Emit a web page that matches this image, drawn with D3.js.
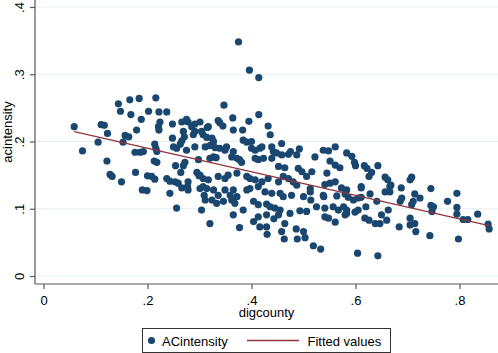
<!DOCTYPE html>
<html>
<head>
<meta charset="utf-8">
<script src="https://cdn.jsdelivr.net/npm/d3@7"></script>
<style>
  body { margin: 0; background: #fff; }
  text { font-family: "Liberation Sans", Arial, sans-serif; fill: #000; }
</style>
</head>
<body>
<script>
var w = 498;
var h = 353;

// digcounty (x) and ACintensity (y)
var digcounty = [
  0.059, 0.075, 0.105, 0.111, 0.117, 0.123, 0.122, 0.128, 0.132, 0.144,
  0.148, 0.153, 0.150, 0.157, 0.164, 0.166, 0.168, 0.184, 0.188, 0.179,
  0.176, 0.186, 0.192, 0.177, 0.202, 0.216, 0.222, 0.237, 0.224, 0.221,
  0.222, 0.214, 0.216, 0.218, 0.213, 0.218, 0.200, 0.208, 0.214, 0.248,
  0.248, 0.250, 0.256, 0.254, 0.237, 0.243, 0.253, 0.266, 0.275, 0.278,
  0.269, 0.271, 0.266, 0.263, 0.275, 0.272, 0.269, 0.264, 0.278, 0.285,
  0.291, 0.301, 0.288, 0.291, 0.291, 0.295, 0.299, 0.304, 0.307, 0.298,
  0.190, 0.199, 0.259, 0.243, 0.256, 0.266, 0.277, 0.278, 0.301, 0.307,
  0.309, 0.375, 0.396, 0.414, 0.347, 0.315, 0.336, 0.339, 0.345, 0.364,
  0.395, 0.414, 0.432, 0.365, 0.383, 0.317, 0.436, 0.314, 0.324, 0.327,
  0.384, 0.391, 0.400, 0.458, 0.492, 0.538, 0.548, 0.561, 0.311, 0.320,
  0.330, 0.339, 0.349, 0.352, 0.365, 0.400, 0.407, 0.416, 0.420, 0.439,
  0.442, 0.448, 0.458, 0.471, 0.475, 0.487, 0.522, 0.551, 0.583, 0.320,
  0.327, 0.332, 0.362, 0.372, 0.377, 0.381, 0.407, 0.413, 0.423, 0.439,
  0.452, 0.464, 0.490, 0.497, 0.516, 0.545, 0.561, 0.570, 0.301, 0.307,
  0.317, 0.336, 0.349, 0.355, 0.372, 0.391, 0.397, 0.407, 0.420, 0.432,
  0.452, 0.461, 0.471, 0.480, 0.487, 0.506, 0.513, 0.541, 0.551, 0.561,
  0.573, 0.583, 0.314, 0.327, 0.336, 0.349, 0.359, 0.365, 0.372, 0.391,
  0.397, 0.413, 0.426, 0.439, 0.455, 0.461, 0.477, 0.500, 0.513, 0.538,
  0.311, 0.324, 0.333, 0.346, 0.362, 0.368, 0.384, 0.404, 0.413, 0.429,
  0.436, 0.445, 0.455, 0.474, 0.493, 0.506, 0.525, 0.541, 0.557, 0.567,
  0.577, 0.583, 0.304, 0.320, 0.365, 0.413, 0.429, 0.452, 0.404, 0.541,
  0.548, 0.377, 0.416, 0.429, 0.430, 0.443, 0.464, 0.458, 0.463, 0.486,
  0.488, 0.500, 0.503, 0.519, 0.533, 0.561, 0.580, 0.514, 0.539, 0.564,
  0.611, 0.580, 0.586, 0.596, 0.605, 0.611, 0.583, 0.599, 0.605, 0.620,
  0.628, 0.641, 0.618, 0.626, 0.638, 0.647, 0.650, 0.660, 0.663, 0.657,
  0.666, 0.666, 0.688, 0.689, 0.686, 0.684, 0.705, 0.708, 0.711, 0.705,
  0.714, 0.716, 0.714, 0.724, 0.743, 0.745, 0.745, 0.750, 0.747, 0.777,
  0.795, 0.795, 0.795, 0.798, 0.807, 0.816, 0.835, 0.855, 0.857, 0.604,
  0.643, 0.593, 0.598, 0.600, 0.617, 0.622, 0.643, 0.631, 0.626, 0.657,
  0.662, 0.668, 0.611, 0.708, 0.705
];
var acintensity = [
  0.222, 0.186, 0.199, 0.225, 0.224, 0.212, 0.171, 0.151, 0.148, 0.256,
  0.245, 0.199, 0.140, 0.209, 0.207, 0.262, 0.240, 0.264, 0.233, 0.217,
  0.184, 0.184, 0.185, 0.154, 0.245, 0.265, 0.244, 0.244, 0.229, 0.222,
  0.217, 0.196, 0.190, 0.185, 0.171, 0.169, 0.149, 0.148, 0.144, 0.226,
  0.205, 0.192, 0.190, 0.164, 0.145, 0.141, 0.140, 0.229, 0.233, 0.229,
  0.215, 0.207, 0.201, 0.196, 0.187, 0.169, 0.164, 0.154, 0.140, 0.222,
  0.226, 0.229, 0.210, 0.215, 0.192, 0.154, 0.149, 0.215, 0.210, 0.173,
  0.128, 0.127, 0.138, 0.123, 0.101, 0.131, 0.133, 0.128, 0.130, 0.133,
  0.120, 0.348, 0.306, 0.295, 0.254, 0.221, 0.231, 0.228, 0.223, 0.235,
  0.230, 0.240, 0.223, 0.217, 0.217, 0.222, 0.210, 0.206, 0.205, 0.200,
  0.202, 0.199, 0.200, 0.197, 0.189, 0.187, 0.186, 0.192, 0.192, 0.194,
  0.191, 0.190, 0.187, 0.192, 0.185, 0.190, 0.187, 0.190, 0.192, 0.192,
  0.185, 0.183, 0.180, 0.181, 0.185, 0.180, 0.177, 0.171, 0.183, 0.175,
  0.177, 0.176, 0.177, 0.175, 0.173, 0.169, 0.175, 0.173, 0.175, 0.175,
  0.163, 0.161, 0.160, 0.155, 0.155, 0.153, 0.165, 0.161, 0.150, 0.145,
  0.143, 0.148, 0.145, 0.150, 0.153, 0.148, 0.145, 0.143, 0.140, 0.145,
  0.140, 0.148, 0.145, 0.140, 0.135, 0.148, 0.130, 0.136, 0.138, 0.140,
  0.131, 0.128, 0.130, 0.128, 0.120, 0.128, 0.120, 0.128, 0.118, 0.128,
  0.130, 0.133, 0.125, 0.123, 0.123, 0.118, 0.120, 0.118, 0.125, 0.120,
  0.113, 0.113, 0.108, 0.111, 0.113, 0.108, 0.098, 0.111, 0.106, 0.107,
  0.103, 0.101, 0.098, 0.093, 0.097, 0.096, 0.103, 0.101, 0.103, 0.098,
  0.103, 0.093, 0.098, 0.078, 0.091, 0.088, 0.091, 0.091, 0.081, 0.088,
  0.086, 0.072, 0.073, 0.073, 0.062, 0.085, 0.078, 0.066, 0.055, 0.070,
  0.055, 0.066, 0.057, 0.045, 0.040, 0.080, 0.091, 0.113, 0.118, 0.119,
  0.131, 0.122, 0.117, 0.113, 0.116, 0.117, 0.098, 0.095, 0.098, 0.103,
  0.122, 0.111, 0.086, 0.083, 0.078, 0.078, 0.091, 0.083, 0.098, 0.125,
  0.133, 0.125, 0.131, 0.116, 0.111, 0.073, 0.086, 0.106, 0.111, 0.076,
  0.078, 0.066, 0.122, 0.116, 0.060, 0.130, 0.105, 0.103, 0.096, 0.111,
  0.123, 0.102, 0.092, 0.055, 0.084, 0.084, 0.092, 0.077, 0.070, 0.034,
  0.030, 0.178, 0.169, 0.164, 0.164, 0.160, 0.164, 0.154, 0.148, 0.147,
  0.143, 0.135, 0.133, 0.147, 0.143
];

var xTicks = [0, 0.2, 0.4, 0.6, 0.8];
var yTicks = [0, 0.1, 0.2, 0.3, 0.4];
var xTitle = "digcounty";
var yTitle = "acintensity";
var legendLabels = ["ACintensity", "Fitted values"];

var navy = "#1a476f";
var maroon = "#90353b";

// tick labels the Stata way: ".2" rather than "0.2"
function stataFmt(d) {
    if (d === 0) return "0";
    return d3.format(".1f")(d).replace(/^0/, "");
}

var points = digcounty.map(function (d, i) {
    return { x: d, y: acintensity[i] };
});

// plot region
var left = 35, bottom = 284, right = w;

var xScale = d3.scaleLinear()
               .domain([0, 0.8])
               .range([43.5, 459.5]);

var yScale = d3.scaleLinear()
               .domain([0, 0.4])
               .range([276, 7]);

var svg = d3.select("body")
            .append("svg")
            .attr("width", w)
            .attr("height", h);

// horizontal grid lines
svg.append("g")
   .selectAll("line")
   .data(yTicks)
   .enter()
   .append("line")
   .attr("x1", left)
   .attr("x2", right)
   .attr("y1", function (d) { return yScale(d); })
   .attr("y2", function (d) { return yScale(d); })
   .style("stroke", "#e6eff1")
   .style("stroke-width", 1);

// y axis
var yAxis = d3.axisLeft(yScale)
              .tickValues(yTicks)
              .tickSize(5)
              .tickFormat(stataFmt);

var gy = svg.append("g")
            .attr("transform", "translate(" + left + ",0)")
            .call(yAxis);
gy.select(".domain").attr("d", "M0,0V" + bottom);
gy.selectAll("text")
  .attr("x", null).attr("dy", null)
  .attr("transform", "translate(-11,0) rotate(-90)")
  .style("text-anchor", "middle")
  .style("font-size", "13px");

// x axis
var xAxis = d3.axisBottom(xScale)
              .tickValues(xTicks)
              .tickSize(5)
              .tickFormat(stataFmt);

var gx = svg.append("g")
            .attr("transform", "translate(0," + bottom + ")")
            .call(xAxis);
gx.select(".domain").attr("d", "M" + left + ",0H" + right);
gx.selectAll("text")
  .attr("y", 21).attr("dy", null)
  .style("font-size", "13px");

svg.selectAll(".domain, .tick line")
   .style("stroke", "#5a5a5a")
   .style("stroke-width", 1.2);

// axis titles
svg.append("text")
   .attr("x", (left + right) / 2)
   .attr("y", 317)
   .style("text-anchor", "middle")
   .style("font-size", "13px")
   .text(xTitle);

svg.append("text")
   .attr("transform", "translate(12,132) rotate(-90)")
   .style("text-anchor", "middle")
   .style("font-size", "13px")
   .text(yTitle);

// scatter
svg.append("g")
   .selectAll("circle")
   .data(points)
   .enter()
   .append("circle")
   .attr("cx", function (d) { return xScale(d.x); })
   .attr("cy", function (d) { return yScale(d.y); })
   .attr("r", 3.6)
   .style("fill", navy);

// least squares fit of acintensity on digcounty
var mx = d3.mean(digcounty);
var my = d3.mean(acintensity);
var sxy = d3.sum(points, function (d) { return (d.x - mx) * (d.y - my); });
var sxx = d3.sum(points, function (d) { return (d.x - mx) * (d.x - mx); });
var slope = sxy / sxx;
var intercept = my - slope * mx;

var fitted = d3.extent(digcounty).map(function (x) {
    return { x: x, y: intercept + slope * x };
});

var line = d3.line()
             .x(function (d) { return xScale(d.x); })
             .y(function (d) { return yScale(d.y); });

svg.append("path")
   .datum(fitted)
   .attr("d", line)
   .style("fill", "none")
   .style("stroke", maroon)
   .style("stroke-width", 1.3);

// legend
var legend = svg.append("g");

legend.append("rect")
      .attr("x", 142.5)
      .attr("y", 328.5)
      .attr("width", 248)
      .attr("height", 24)
      .style("fill", "#fff")
      .style("stroke", "#333")
      .style("stroke-width", 1);

legend.append("circle")
      .attr("cx", 151.5)
      .attr("cy", 340.5)
      .attr("r", 3.6)
      .style("fill", navy);

legend.append("text")
      .attr("x", 162)
      .attr("y", 345.5)
      .style("font-size", "13px")
      .text(legendLabels[0]);

legend.append("line")
      .attr("x1", 247)
      .attr("x2", 299)
      .attr("y1", 340.5)
      .attr("y2", 340.5)
      .style("stroke", maroon)
      .style("stroke-width", 1.3);

legend.append("text")
      .attr("x", 307.5)
      .attr("y", 345.5)
      .style("font-size", "13px")
      .text(legendLabels[1]);
</script>
</body>
</html>
